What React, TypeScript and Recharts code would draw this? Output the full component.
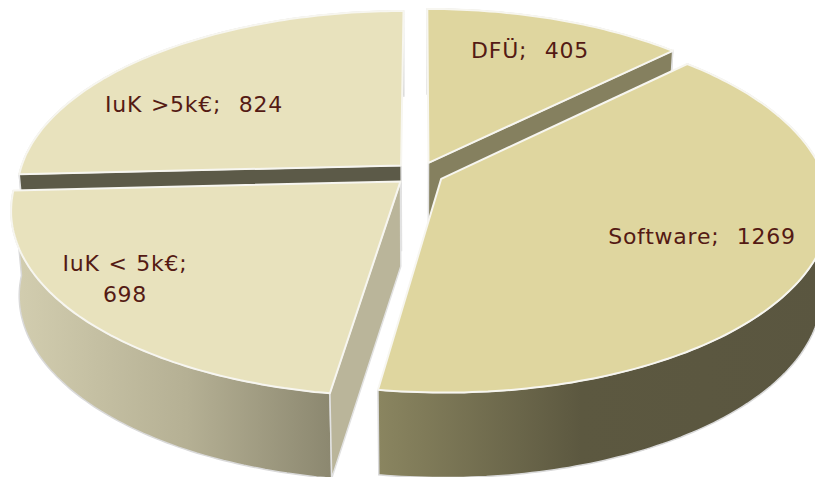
import React from 'react';
import { PieChart, Pie } from 'recharts';

// clockwise order, starting at the IuK >5k slice so the back slices are painted first
const categories = ['IuK >5k€', 'DFÜ', 'Software', 'IuK < 5k€'];
const values = [824, 405, 1269, 698];

const topColors = ['#e8e2bd', '#dfd69f', '#dfd69f', '#e8e2bd'];
const cutColors = ['#5c5a48', '#85805f', 'none', '#bab59a'];
// which radial edge of the slice shows a cut wall
const cutEdges = ['start', 'end', null, 'start'];
const wallStops = [
  [['0%', '#5c5a48'], ['100%', '#5c5a48']],
  [['0%', '#85805f'], ['100%', '#85805f']],
  [['0%', '#8a8560'], ['45%', '#5c5840'], ['100%', '#5a5640']],
  [['0%', '#d3ceb0'], ['55%', '#b5b094'], ['100%', '#8c8870']],
];
const labelLines = [['IuK >5k€;\u00a0 824'], ['DFÜ;\u00a0 405'], ['Software;\u00a0 1269'], ['IuK < 5k€;', '698']];
const labelSpots = [[194, 112], [530, 58], [702, 244], [125, 271]];

const WIDTH = 815;
const HEIGHT = 477;
const CX = 419;
const CY = 173.5;
const RX = 382;
const FLATTEN = 0.471; // ry / rx
const PERSPECTIVE = 0.15;
const EXPLODE = 0.065;
const DEPTH = 85;
const BOTTOM_SCALE = 0.98; // the lower face sits a bit further from the camera

const data = categories.map((name, i) => ({ name, value: values[i] }));
const firstAngle = 90 + (values[0] / values.reduce((a, b) => a + b, 0)) * 360;

const rad = (d: number) => (d * Math.PI) / 180;

function SliceShape(props: any) {
  const { cx, cy, outerRadius, startAngle, endAngle, index } = props;
  const mid = rad((startAngle + endAngle) / 2);
  const ou = EXPLODE * Math.cos(mid);
  const ov = -EXPLODE * Math.sin(mid);

  const project = (u: number, v: number): [number, number] => {
    const d = 1 - PERSPECTIVE * v;
    return [cx + (outerRadius * u) / d, cy + (outerRadius * FLATTEN * v) / d];
  };
  const rim = (a: number) => project(ou + Math.cos(rad(a)), ov - Math.sin(rad(a)));
  const apex = project(ou, ov);

  const arc: [number, number][] = [];
  const steps = Math.ceil(Math.abs(startAngle - endAngle));
  for (let i = 0; i <= steps; i++) {
    arc.push(rim(startAngle + ((endAngle - startAngle) * i) / steps));
  }
  const pts = (list: [number, number][]) => list.map(p => `${p[0].toFixed(1)},${p[1].toFixed(1)}`).join(' ');
  const down = (p: [number, number]): [number, number] => [cx + (p[0] - cx) * BOTTOM_SCALE, p[1] + DEPTH];

  const xs = arc.map(p => p[0]);
  const gradId = `wall-${index}`;
  const edge = cutEdges[index];
  const edgePoint = edge === 'start' ? arc[0] : arc[arc.length - 1];

  return (
    <g>
      <defs>
        <linearGradient id={gradId} gradientUnits="userSpaceOnUse" x1={Math.min(...xs)} x2={Math.max(...xs)} y1={0} y2={0}>
          {wallStops[index].map(s => <stop key={s[0]} offset={s[0]} stopColor={s[1]} />)}
        </linearGradient>
      </defs>
      <polygon
        points={pts([...arc, ...arc.map(down).reverse()])}
        fill={`url(#${gradId})`}
        stroke="#d9d9d9"
        strokeWidth={1.5}
      />
      {edge && (
        <polygon
          points={pts([apex, edgePoint, down(edgePoint), down(apex)])}
          fill={cutColors[index]}
          stroke="#e2e2e2"
          strokeWidth={1.5}
        />
      )}
      <polygon points={pts([apex, ...arc])} fill={topColors[index]} stroke="#f7f6f0" strokeWidth={2} strokeLinejoin="round" />
    </g>
  );
}

function renderLabel(props: any) {
  const { index } = props;
  const [x, y] = labelSpots[index];
  return (
    <text x={x} y={y} textAnchor="middle" fontFamily="'DejaVu Sans', sans-serif" fontSize={22} letterSpacing={0.75} wordSpacing={1} fill="#541a14">
      {labelLines[index].map((line, i) => (
        <tspan key={i} x={x} dy={i === 0 ? 0 : 31}>{line}</tspan>
      ))}
    </text>
  );
}

export default function App() {
  return (
    <div style={{ position: 'absolute', left: 0, top: 0, width: WIDTH, height: HEIGHT, background: '#fff' }}>
      <PieChart width={WIDTH} height={HEIGHT} margin={{ top: 0, right: 0, bottom: 0, left: 0 }}>
        <Pie
          data={data}
          dataKey="value"
          nameKey="name"
          cx={CX}
          cy={CY}
          innerRadius={0}
          outerRadius={RX}
          startAngle={firstAngle}
          endAngle={firstAngle - 360}
          paddingAngle={0}
          stroke="none"
          shape={SliceShape}
          label={renderLabel}
          labelLine={false}
          isAnimationActive={false}
        />
      </PieChart>
    </div>
  );
}
